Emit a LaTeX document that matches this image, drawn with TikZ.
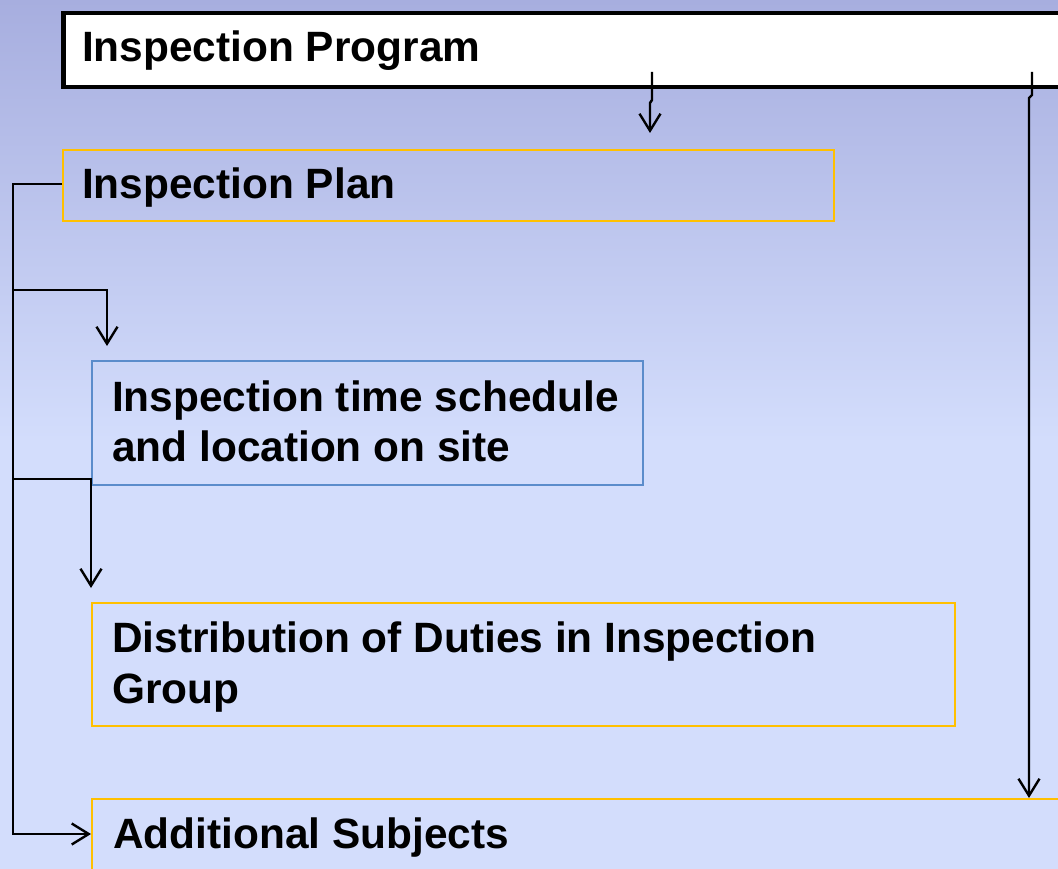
\documentclass[tikz,border=0pt]{standalone}
\usepackage{fontspec}
\setmainfont{Liberation Sans}
\usetikzlibrary{arrows.meta}
\definecolor{bgtop}{HTML}{A7AEDF}
\definecolor{bgmid}{HTML}{D3DDFC}
\definecolor{ybord}{HTML}{FFC000}
\definecolor{bbord}{HTML}{5B8CCB}
\tikzset{
  progbox/.style={draw=black, line width=4.5pt, fill=white, rectangle, inner sep=0pt, anchor=north west},
  ybox/.style={draw=ybord, line width=2pt, rectangle, inner sep=0pt, anchor=north west},
  bbox/.style={draw=bbord, line width=2pt, rectangle, inner sep=0pt, anchor=north west},
  lbl/.style={anchor=base west, inner sep=0pt, font=\fontsize{42.4}{50}\selectfont\bfseries, align=left},
  conn/.style={draw=black, line width=2.4pt},
  arr/.style={-{Straight Barb[length=17pt,width=21pt,line width=2.4pt]}}
}
\begin{document}
\begin{tikzpicture}[x=1pt,y=-1pt]
\useasboundingbox (0,0) rectangle (1058,869);
\clip (0,0) rectangle (1058,869);
\fill[top color=bgtop, bottom color=bgmid] (0,0) rectangle (1058,440);
\fill[bgmid] (0,439) rectangle (1058,869);

% boxes
\node[progbox, minimum width=1020pt, minimum height=74pt] (prog) at (61,11) {};
\node[ybox, minimum width=771pt, minimum height=71pt] (plan) at (62,149) {};
\node[bbox, minimum width=551pt, minimum height=124pt] (sched) at (91,360) {};
\node[ybox, minimum width=863pt, minimum height=123pt] (dist) at (91,602) {};
\node[ybox, minimum width=1000pt, minimum height=120pt] (add) at (91,798) {};

% labels
\node[lbl] (tprog) at (82,62) {Inspection Program};
\node[lbl] (tplan) at (82,199) {Inspection Plan};
\node[lbl] (tsched1) at (112,411) {Inspection time schedule};
\node[lbl] (tsched2) at (112,461) {and location on site};
\node[lbl] (tdist1) at (112,652) {Distribution of Duties in Inspection};
\node[lbl] (tdist2) at (112,703) {Group};
\node[lbl] (tadd) at (113,848) {Additional Subjects};

% connectors from program
\coordinate (a1) at (652,72);
\draw[conn, arr, shorten >=16pt] (a1) -- (652,100) -- (650,103) -- (plan.north -| 650,0);
\coordinate (a2) at (1032,72);
\draw[conn, arr] (a2) -- (1032,95) -- (1029,98) -- (add.north -| 1029,0);

% left trunk
\coordinate (b0) at (13,184);
\coordinate (b1) at (13,290);
\coordinate (b2) at (13,479);
\draw[conn, arr] (b0 -| plan.west) -- (b0) -- (13,834) -- (add.west |- 0,834);
\draw[conn, arr, shorten >=14pt] (b1) -- (107,290) -- (sched.north -| 107,0);
\draw[conn, arr, shorten >=14pt] (b2) -- (b2 -| sched.west) -- (dist.north -| sched.west);
\end{tikzpicture}
\end{document}
